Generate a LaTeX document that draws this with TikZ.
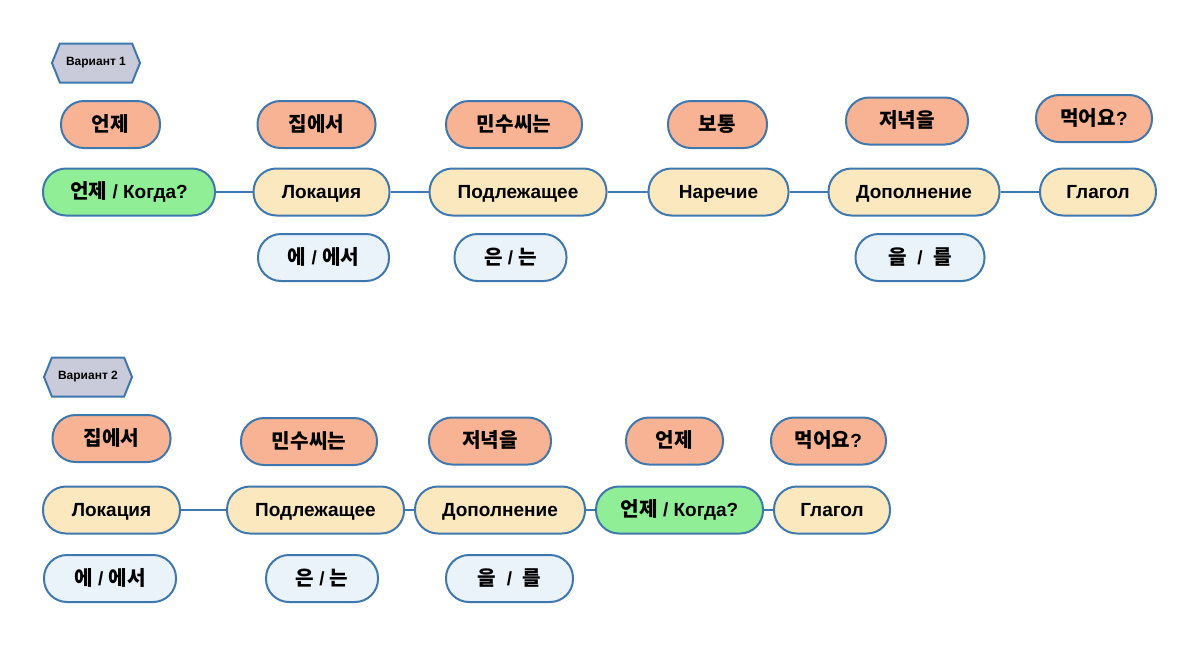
\documentclass[tikz,border=0pt]{standalone}
\usepackage{fontspec}
\setmainfont{Liberation Sans}
\newfontfamily\krfont{Noto Sans CJK KR}[Scale=1.06]
\newcommand\kr[1]{{\krfont #1}}
\usetikzlibrary{shapes.symbols}
\definecolor{edgeblue}{HTML}{3F78AE}
\definecolor{wordfill}{HTML}{F7B394}
\definecolor{rolefill}{HTML}{FCE8BE}
\definecolor{timefill}{HTML}{90EE96}
\definecolor{partfill}{HTML}{EBF3FA}
\definecolor{tagfill}{HTML}{C9CBDA}
\tikzset{
  pill/.style={draw=edgeblue, line width=2pt, rectangle, rounded corners=23pt,
    minimum height=47pt, inner sep=0pt, text height=13.5pt, text depth=0pt,
    font=\bfseries\fontsize{19}{19}\selectfont},
  word/.style={pill, fill=wordfill},
  role/.style={pill, fill=rolefill},
  timerole/.style={pill, fill=timefill},
  particle/.style={pill, fill=partfill},
  tag/.style={draw=edgeblue, line width=2pt, fill=tagfill, signal, signal to=west and east,
    signal pointer angle=136, minimum height=39pt, minimum width=88pt, inner sep=0pt,
    font=\bfseries\fontsize{12}{12}\selectfont},
  link/.style={draw=edgeblue, line width=1.8pt}
}
\begin{document}
\begin{tikzpicture}[x=1pt, y=-1pt]
  \useasboundingbox (0,0) rectangle (1200,646);
  % Variant 1
  \node[tag] (tagA) at (96,63) {Вариант 1};
  \node[word, minimum width=99pt] (wA1) at (110.5,124.5) {\kr{언제}};
  \node[word, minimum width=118pt] (wA2) at (316.5,124.5) {\kr{집에서}};
  \node[word, minimum width=136pt] (wA3) at (514,124.5) {\kr{민수씨는}};
  \node[word, minimum width=99pt] (wA4) at (717.5,124.5) {\kr{보통}};
  \node[word, minimum width=122pt] (wA5) at (907,121) {\kr{저녁을}};
  \node[word, minimum width=116pt] (wA6) at (1094,118.5) {\kr{먹어요}?};
  \node[timerole, minimum width=172pt] (rA1) at (129,192) {\kr{언제} / Когда?};
  \node[role, minimum width=136pt] (rA2) at (321.5,192) {Локация};
  \node[role, minimum width=177pt] (rA3) at (518,192) {Подлежащее};
  \node[role, minimum width=140pt] (rA4) at (718.5,192) {Наречие};
  \node[role, minimum width=171pt] (rA5) at (914,192) {Дополнение};
  \node[role, minimum width=116pt] (rA6) at (1098,192) {Глагол};
  \node[particle, minimum width=131pt] (pA2) at (323.5,257.5) {\kr{에} / \kr{에서}};
  \node[particle, minimum width=112pt] (pA3) at (510.5,257.5) {\kr{은} / \kr{는}};
  \node[particle, minimum width=129pt] (pA5) at (920,257.5) {\kr{을} \ / \ \kr{를}};
  \foreach \a/\b in {rA1/rA2,rA2/rA3,rA3/rA4,rA4/rA5,rA5/rA6}
    \draw[link] (\a.east) -- (\b.west);
  % Variant 2
  \node[tag] (tagB) at (88,377) {Вариант 2};
  \node[word, minimum width=118pt] (wB1) at (111.5,438.5) {\kr{집에서}};
  \node[word, minimum width=136pt] (wB2) at (309,441.5) {\kr{민수씨는}};
  \node[word, minimum width=122pt] (wB3) at (490,441) {\kr{저녁을}};
  \node[word, minimum width=97pt] (wB4) at (674.5,441) {\kr{언제}};
  \node[word, minimum width=115pt] (wB5) at (828.5,441) {\kr{먹어요}?};
  \node[role, minimum width=137pt] (rB1) at (111.5,510) {Локация};
  \node[role, minimum width=177pt] (rB2) at (315.5,510) {Подлежащее};
  \node[role, minimum width=170pt] (rB3) at (500,510) {Дополнение};
  \node[timerole, minimum width=167pt] (rB4) at (679.5,510) {\kr{언제} / Когда?};
  \node[role, minimum width=116pt] (rB5) at (832,510) {Глагол};
  \node[particle, minimum width=132pt] (pB1) at (110,578.5) {\kr{에} / \kr{에서}};
  \node[particle, minimum width=112pt] (pB2) at (322,578.5) {\kr{은} / \kr{는}};
  \node[particle, minimum width=127pt] (pB3) at (509.5,578.5) {\kr{을} \ / \ \kr{를}};
  \foreach \a/\b in {rB1/rB2,rB2/rB3,rB3/rB4,rB4/rB5}
    \draw[link] (\a.east) -- (\b.west);
\end{tikzpicture}
\end{document}
